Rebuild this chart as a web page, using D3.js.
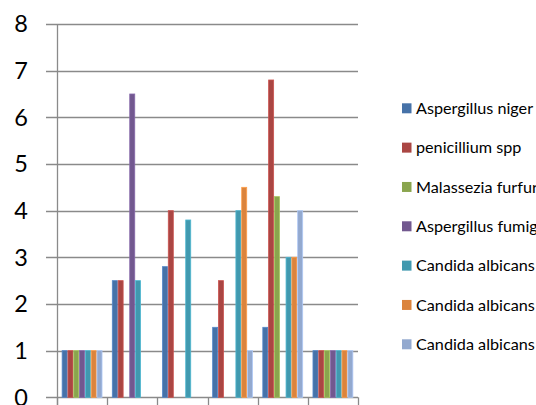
<!DOCTYPE html>
<html>
<head>
<meta charset="utf-8">
<script src="https://cdn.jsdelivr.net/npm/d3@7"></script>
<style>
  html, body { margin: 0; padding: 0; background: #fff; overflow: hidden; }
  svg { display: block; }
</style>
</head>
<body>
<svg id="chart" width="536" height="405"></svg>
<script>
// Sampling groups (x categories) and fungal species (series)
const categories = ["Group 1", "Group 2", "Group 3", "Group 4", "Group 5", "Group 6"];
const seriesNames = [
  "Aspergillus niger",
  "penicillium spp",
  "Malassezia furfur",
  "Aspergillus fumigatus",
  "Candida albicans",
  "Candida albicans",
  "Candida albicans"
];
const seriesColors = ["#4672A8", "#AA4643", "#8AA54E", "#72588F", "#4199AF", "#DB843D", "#93A9CF"];

// Counts per species, one entry per group (0 = not found)
const aspergillusNiger     = [1, 2.5, 2.8, 1.5, 1.5, 1];
const penicilliumSpp       = [1, 2.5, 4.0, 2.5, 6.8, 1];
const malasseziaFurfur     = [1, 0,   0,   0,   4.3, 1];
const aspergillusFumigatus = [1, 6.5, 0,   0,   0,   1];
const candidaAlbicansA     = [1, 2.5, 3.8, 4.0, 3.0, 1];
const candidaAlbicansB     = [1, 0,   0,   4.5, 3.0, 1];
const candidaAlbicansC     = [1, 0,   0,   1.0, 4.0, 1];

const yTicks = [0, 1, 2, 3, 4, 5, 6, 7, 8];

const seriesValues = [
  aspergillusNiger, penicilliumSpp, malasseziaFurfur, aspergillusFumigatus,
  candidaAlbicansA, candidaAlbicansB, candidaAlbicansC
];

const svg = d3.select("#chart");
const plot = { left: 57, right: 358, top: 24, bottom: 397.3 };

const x0 = d3.scaleBand()
  .domain(categories)
  .range([plot.left, plot.right])
  .paddingInner(0.189)
  .paddingOuter(0.0945);

const x1 = d3.scaleBand()
  .domain(d3.range(seriesNames.length))
  .range([0, x0.bandwidth()]);

const y = d3.scaleLinear().domain([0, 8]).range([plot.bottom, plot.top]);

const gridColor = "#8a8a8a";

// Horizontal gridlines, running a little past the axis on the left
svg.append("g")
  .selectAll("line")
  .data(yTicks)
  .join("line")
  .attr("x1", plot.left - 11)
  .attr("x2", plot.right)
  .attr("y1", d => Math.round(y(d)) + 0.5)
  .attr("y2", d => Math.round(y(d)) + 0.5)
  .attr("stroke", gridColor)
  .attr("stroke-width", 1.3);

// Category boundary ticks below the baseline
const boundaries = categories.map(c => x0(c) - x0.step() * x0.paddingOuter())
  .concat([plot.right]);
svg.append("g")
  .selectAll("line")
  .data(boundaries)
  .join("line")
  .attr("x1", d => Math.round(d) + 0.5)
  .attr("x2", d => Math.round(d) + 0.5)
  .attr("y1", plot.bottom)
  .attr("y2", plot.bottom + 10)
  .attr("stroke", gridColor)
  .attr("stroke-width", 1.3);

// Vertical axis line
svg.append("line")
  .attr("x1", plot.left + 0.5).attr("x2", plot.left + 0.5)
  .attr("y1", plot.top).attr("y2", plot.bottom + 10)
  .attr("stroke", gridColor)
  .attr("stroke-width", 1.3);

// Y tick labels
svg.append("g")
  .selectAll("text")
  .data(yTicks)
  .join("text")
  .attr("x", 28)
  .attr("y", d => y(d))
  .attr("dy", "0.36em")
  .attr("text-anchor", "end")
  .attr("font-family", "Lato, 'Open Sans', sans-serif")
  .attr("font-size", 23.5)
  .attr("fill", "#000")
  .text(d => d);

// Bars
const groups = svg.append("g")
  .selectAll("g")
  .data(categories)
  .join("g")
  .attr("transform", c => `translate(${x0(c)},0)`);

groups.selectAll("rect")
  .data((c, ci) => seriesValues.map((vals, si) => ({ si, v: vals[ci] })).filter(d => d.v > 0))
  .join("rect")
  .attr("x", d => x1(d.si) + 0.4)
  .attr("width", x1.bandwidth() - 0.8)
  .attr("y", d => y(d.v))
  .attr("height", d => y(0) - y(d.v))
  .attr("fill", d => seriesColors[d.si])
  .attr("stroke", d => d3.color(seriesColors[d.si]).brighter(0.5))
  .attr("stroke-width", 0.8);

// Legend
const legend = svg.append("g")
  .selectAll("g")
  .data(seriesNames)
  .join("g")
  .attr("transform", (d, i) => `translate(402, ${108.3 + i * 39.33})`);

legend.append("rect")
  .attr("x", 0)
  .attr("y", -5)
  .attr("width", 9.5)
  .attr("height", 10)
  .attr("fill", (d, i) => seriesColors[i]);

legend.append("text")
  .attr("x", 14)
  .attr("y", 0)
  .attr("dy", "0.35em")
  .attr("font-family", "Lato, 'Open Sans', sans-serif")
  .attr("font-size", 16.2)
  .attr("fill", "#000")
  .text(d => d);
</script>
</body>
</html>
